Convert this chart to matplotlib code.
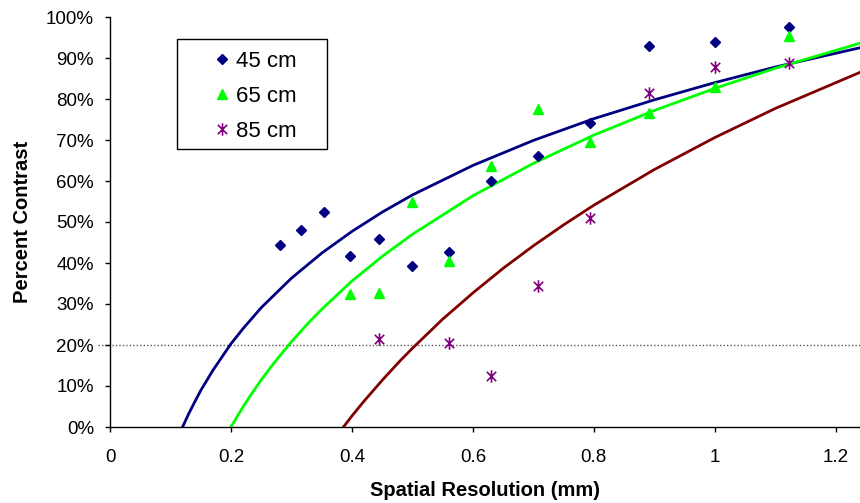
import matplotlib
matplotlib.use("Agg")
import matplotlib.pyplot as plt
from matplotlib.path import Path
from matplotlib.patches import Rectangle
from matplotlib.ticker import PercentFormatter

plt.rcParams['font.family'] = ['Liberation Sans', 'DejaVu Sans']

# measured points (x = spatial resolution in mm, y = contrast fraction)
x45 = [0.281, 0.315, 0.354, 0.397, 0.445, 0.5, 0.561, 0.63, 0.707, 0.794, 0.891, 1.0, 1.122]
y45 = [0.444, 0.480, 0.525, 0.417, 0.459, 0.392, 0.426, 0.600, 0.662, 0.741, 0.929, 0.940, 0.975]

x65 = [0.397, 0.445, 0.5, 0.561, 0.63, 0.707, 0.794, 0.891, 1.0, 1.122]
y65 = [0.324, 0.328, 0.550, 0.406, 0.637, 0.776, 0.696, 0.765, 0.829, 0.954]

x85 = [0.445, 0.561, 0.63, 0.707, 0.794, 0.891, 1.0, 1.122]
y85 = [0.215, 0.206, 0.125, 0.344, 0.510, 0.814, 0.877, 0.889]

# trend curves
fx45 = [0.12, 0.13, 0.14, 0.15, 0.17, 0.2, 0.22, 0.25, 0.3, 0.35, 0.4, 0.45, 0.5, 0.6, 0.7, 0.8, 0.9, 1.0, 1.1, 1.24]
fy45 = [0.0, 0.032, 0.061, 0.089, 0.138, 0.203, 0.240, 0.291, 0.363, 0.424, 0.477, 0.524, 0.566, 0.638,
        0.699, 0.752, 0.798, 0.840, 0.878, 0.925]

fx65 = [0.2, 0.21, 0.22, 0.23, 0.25, 0.27, 0.3, 0.33, 0.35, 0.4, 0.45, 0.5, 0.6, 0.7, 0.8, 0.9, 1.0, 1.1, 1.24]
fy65 = [0.0, 0.025, 0.049, 0.072, 0.115, 0.154, 0.208, 0.257, 0.287, 0.356, 0.416, 0.470, 0.564, 0.643,
        0.712, 0.772, 0.826, 0.875, 0.936]

fx85 = [0.386, 0.4, 0.42, 0.45, 0.48, 0.5, 0.55, 0.6, 0.65, 0.7, 0.75, 0.8, 0.9, 1.0, 1.1, 1.24]
fy85 = [0.0, 0.027, 0.063, 0.114, 0.162, 0.192, 0.263, 0.327, 0.387, 0.442, 0.493, 0.541, 0.628, 0.706,
        0.777, 0.865]

# asterisk like the spreadsheet one: vertical bar plus an X
star = Path([(0, -1), (0, 1), (-0.75, -0.75), (0.75, 0.75), (-0.75, 0.75), (0.75, -0.75)],
            [Path.MOVETO, Path.LINETO, Path.MOVETO, Path.LINETO, Path.MOVETO, Path.LINETO])

fig = plt.figure(figsize=(8.6, 5.03), dpi=100)
ax = fig.add_axes([110 / 860, 76 / 503, 750 / 860, 410 / 503])

ax.axhline(0.2, xmin=-0.016, xmax=1, color='#555555', lw=1, ls=(0, (1, 1.5)), clip_on=False, zorder=1)

ax.plot(fx45, fy45, color='#000080', lw=2, zorder=2)
ax.plot(fx65, fy65, color='#00ff00', lw=2, zorder=2)
ax.plot(fx85, fy85, color='#800000', lw=2, zorder=2)

ax.plot(x45, y45, ls='none', marker='D', ms=5.5, color='#000080', label='45 cm', zorder=3)
ax.plot(x65, y65, ls='none', marker='^', ms=7, color='#00ff00', label='65 cm', zorder=3)
ax.plot(x85, y85, ls='none', marker=star, ms=9, mew=1.2, color='#800080', label='85 cm', zorder=3)

ax.set_xlim(0, 1.24)
ax.set_ylim(0, 1.0)
ax.set_xticks([0, 0.2, 0.4, 0.6, 0.8, 1.0, 1.2])
ax.set_xticklabels(['0', '0.2', '0.4', '0.6', '0.8', '1', '1.2'])
ax.set_yticks([i / 10 for i in range(11)])
ax.yaxis.set_major_formatter(PercentFormatter(1.0, decimals=0))

for s in ['top', 'right']:
    ax.spines[s].set_visible(False)
for s in ['left', 'bottom']:
    ax.spines[s].set_linewidth(1.0)
ax.tick_params(direction='out', length=3.6, width=1, labelsize=13.5)
ax.tick_params(axis='x', pad=12)
ax.tick_params(axis='y', pad=8)

ax.set_xlabel('Spatial Resolution (mm)', fontsize=14.5, fontweight='bold', labelpad=11)
ax.set_ylabel('Percent Contrast', fontsize=14.5, fontweight='bold', labelpad=10)

leg = ax.legend(loc='upper left', bbox_to_anchor=(0.1373, 0.918), borderaxespad=0,
                fontsize=16, frameon=False, handlelength=0.8, handletextpad=0.22,
                borderpad=0, labelspacing=0.63)
# legend frame box
ax.add_patch(Rectangle((0.0893, 0.678), 0.2, 0.2683, transform=ax.transAxes, fill=False,
                       edgecolor='black', lw=1.0, clip_on=False, zorder=4))

fig.savefig('out.png', dpi=100)
